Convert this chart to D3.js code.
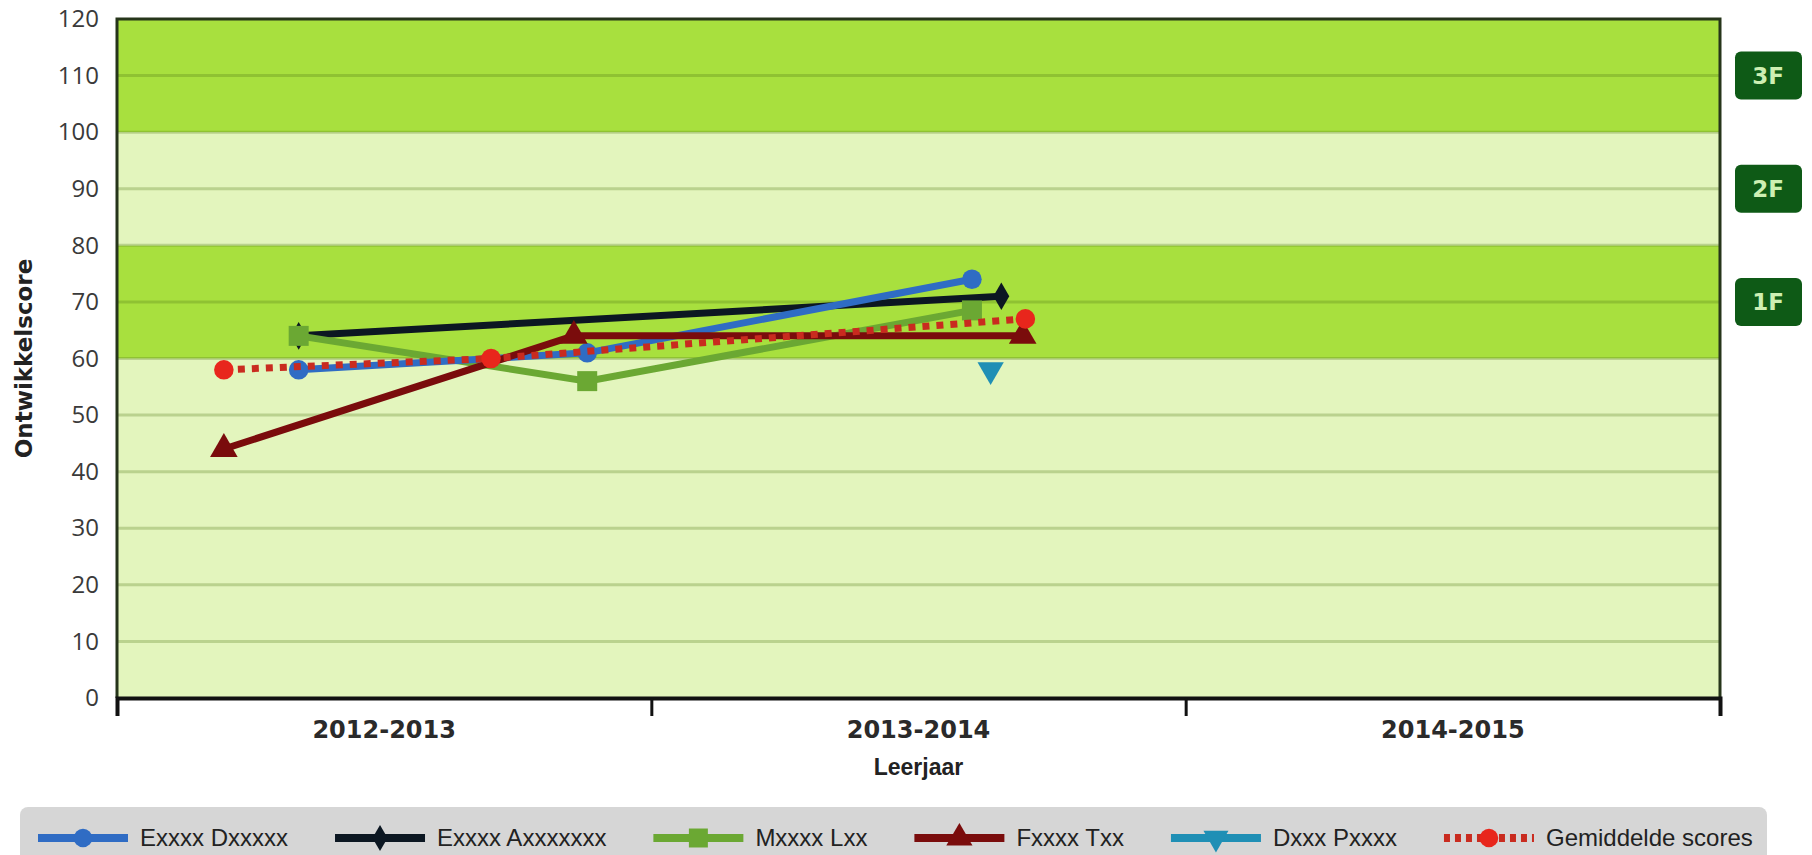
<!DOCTYPE html>
<html>
<head>
<meta charset="utf-8">
<title>ontwikkelscore</title>
<style>
  body { margin: 0; background: #fff; }
  svg { display: block; }
</style>
<script src="https://d3js.org/d3.v7.min.js"></script>
</head>
<body>
<div id="chart"></div>
<script>

// school years on the x axis
var years = ["2012-2013", "2013-2014", "2014-2015"];

// y axis ticks
var yTicks = d3.range(0, 121, 10);

// reference levels shown on the right
var levelNames = ["1F", "2F", "3F"];
var levelValues = [70, 90, 110];

// background bands, dark = level zone
var bandEdges = [0, 60, 80, 100, 120];
var bandDark = [false, true, false, true];

// series (x = position in school years, counted from start of 2012-2013)
var names = ["Exxxx Dxxxxx", "Exxxx Axxxxxxx", "Mxxxx Lxx", "Fxxxx Txx", "Dxxx Pxxxx", "Gemiddelde scores"];

var dxX = [0.34, 0.88, 1.60];
var dxY = [58, 61, 74];

var axX = [0.34, 1.655];
var axY = [64, 71];

var mlX = [0.34, 0.88, 1.60];
var mlY = [64, 56, 68.5];

var ftX = [0.20, 0.855, 1.695];
var ftY = [44, 64, 64];

var dpX = [1.635];
var dpY = [58];

var gemX = [0.20, 0.70, 1.70];
var gemY = [58, 60, 67];

// set the dimensions
var width = 1812, height = 855;
var plot = {left: 117, right: 1720, top: 19, bottom: 698};

var svg = d3.select("#chart")
  .append("svg")
    .attr("width", width)
    .attr("height", height)
    .style("font-family", "'Liberation Sans', Arial, sans-serif");

// scales
var x = d3.scaleLinear().domain([0, years.length]).range([plot.left, plot.right]);
var xBand = d3.scaleBand().domain(years).range([plot.left, plot.right]);
var y = d3.scaleLinear().domain([0, 120]).range([plot.bottom, plot.top]);

// background bands
svg.append("g").selectAll("rect")
  .data(d3.range(bandDark.length))
  .enter().append("rect")
    .attr("x", plot.left)
    .attr("width", plot.right - plot.left)
    .attr("y", function(i) { return y(bandEdges[i + 1]); })
    .attr("height", function(i) { return y(bandEdges[i]) - y(bandEdges[i + 1]); })
    .attr("fill", function(i) { return bandDark[i] ? "#a8e03e" : "#e3f5bd"; });

// gridlines
svg.append("g").selectAll("line")
  .data(yTicks.filter(function(d) { return d > 0 && d < 120; }))
  .enter().append("line")
    .attr("x1", plot.left)
    .attr("x2", plot.right)
    .attr("y1", function(d) { return y(d); })
    .attr("y2", function(d) { return y(d); })
    .attr("stroke", "rgba(80,120,20,0.28)")
    .attr("stroke-width", 3);

// frame
svg.append("path")
    .attr("d", "M" + plot.left + "," + plot.bottom + "V" + plot.top + "H" + plot.right + "V" + plot.bottom)
    .attr("fill", "none")
    .attr("stroke", "#26351a")
    .attr("stroke-width", 3);

// Y axis
var yAxis = svg.append("g")
    .attr("transform", "translate(" + plot.left + ",0)")
    .call(d3.axisLeft(y).tickValues(yTicks).tickSize(0).tickPadding(18));
yAxis.select(".domain").remove();
yAxis.selectAll("text")
    .style("font-family", "'Open Sans', sans-serif")
    .style("font-size", "24px")
    .attr("fill", "#3a3a3a");

// X axis
var xAxis = svg.append("g")
    .attr("transform", "translate(0," + plot.bottom + ")")
    .call(d3.axisBottom(x).tickValues(d3.range(0, years.length + 1)).tickSize(18).tickFormat(""));
xAxis.select(".domain").attr("stroke", "#111").attr("stroke-width", 4);
xAxis.selectAll(".tick line").attr("stroke", "#111").attr("stroke-width", 3);

svg.append("g").selectAll("text")
  .data(years)
  .enter().append("text")
    .attr("x", function(d) { return xBand(d) + xBand.bandwidth() / 2; })
    .attr("y", plot.bottom + 32)
    .attr("dy", "0.35em")
    .attr("text-anchor", "middle")
    .style("font-family", "'DejaVu Sans', sans-serif")
    .style("font-weight", "bold")
    .style("font-size", "24px")
    .attr("fill", "#2a2a2a")
    .text(function(d) { return d; });

// axis titles
svg.append("text")
    .attr("x", (plot.left + plot.right) / 2)
    .attr("y", 767)
    .attr("dy", "0.35em")
    .attr("text-anchor", "middle")
    .style("font-weight", "bold")
    .style("font-size", "23px")
    .attr("fill", "#222")
    .text("Leerjaar");

svg.append("text")
    .attr("transform", "translate(24," + y(60) + ") rotate(-90)")
    .attr("dy", "0.35em")
    .attr("text-anchor", "middle")
    .style("font-family", "'DejaVu Sans', sans-serif")
    .style("font-weight", "bold")
    .style("font-size", "23px")
    .attr("fill", "#222")
    .text("Ontwikkelscore");

// level labels on the right
var levels = svg.append("g").selectAll("g")
  .data(levelNames)
  .enter().append("g")
    .attr("transform", function(d, i) { return "translate(1768," + y(levelValues[i]) + ")"; });
levels.append("rect")
    .attr("x", -33).attr("y", -24)
    .attr("width", 67).attr("height", 48)
    .attr("rx", 6)
    .attr("fill", "#0e5a16");
levels.append("text")
    .attr("text-anchor", "middle")
    .attr("dy", "0.36em")
    .style("font-family", "'DejaVu Sans', sans-serif")
    .style("font-weight", "bold")
    .style("font-size", "23px")
    .attr("fill", "#cdefb2")
    .text(function(d) { return d; });

// series table for drawing
var series = [
  {name: names[1], xs: axX, ys: axY, color: "#0c1722", symbol: d3.symbolDiamond, size: 220},
  {name: names[2], xs: mlX, ys: mlY, color: "#6ba833", symbol: d3.symbolSquare, size: 400},
  {name: names[0], xs: dxX, ys: dxY, color: "#2f6cc4", symbol: d3.symbolCircle, size: 300},
  {name: names[3], xs: ftX, ys: ftY, color: "#7a0c0c", symbol: d3.symbolTriangle, size: 330},
  {name: names[4], xs: dpX, ys: dpY, color: "#1f8fb5", symbol: d3.symbolTriangle, size: 300, flip: true},
  {name: names[5], xs: gemX, ys: gemY, color: "#c92b1f", symbol: d3.symbolCircle, size: 300, dash: "7,7", marker: "#e8261c"}
];

var line = d3.line()
    .x(function(d) { return x(d[0]); })
    .y(function(d) { return y(d[1]); });

series.forEach(function(s) {
  var pts = s.xs.map(function(v, i) { return [v, s.ys[i]]; });
  var g = svg.append("g");
  if (pts.length > 1) {
    g.append("path")
        .datum(pts)
        .attr("fill", "none")
        .attr("stroke", s.color)
        .attr("stroke-width", 7)
        .attr("stroke-dasharray", s.dash || null)
        .attr("d", line);
  }
  g.selectAll(".pt")
    .data(pts)
    .enter().append("path")
      .attr("d", d3.symbol().type(s.symbol).size(s.size))
      .attr("transform", function(d) {
        return "translate(" + x(d[0]) + "," + y(d[1]) + ")" + (s.flip ? " rotate(180)" : "");
      })
      .attr("fill", s.marker || s.color);
});

// legend
var legend = svg.append("g");
legend.append("rect")
    .attr("x", 20).attr("y", 807)
    .attr("width", 1747).attr("height", 70)
    .attr("rx", 8)
    .attr("fill", "#d6d6d6");

var legendOrder = [2, 0, 1, 3, 4, 5];
var lx = 38;
legendOrder.forEach(function(k) {
  var s = series[k];
  var g = legend.append("g").attr("transform", "translate(" + lx + ",838)");
  g.append("line")
      .attr("x1", 0).attr("x2", 90)
      .attr("stroke", s.color)
      .attr("stroke-width", 8)
      .attr("stroke-dasharray", s.dash ? "6,5" : null);
  g.append("path")
      .attr("d", d3.symbol().type(s.symbol).size(s.size * 0.9))
      .attr("transform", "translate(45,0)" + (s.flip ? " rotate(180)" : ""))
      .attr("fill", s.marker || s.color);
  var t = g.append("text")
      .attr("x", 102)
      .attr("dy", "0.35em")
      .style("font-size", "24px")
      .attr("fill", "#222")
      .text(s.name);
  lx += 102 + t.node().getComputedTextLength() + 47;
});

</script>
</body>
</html>
